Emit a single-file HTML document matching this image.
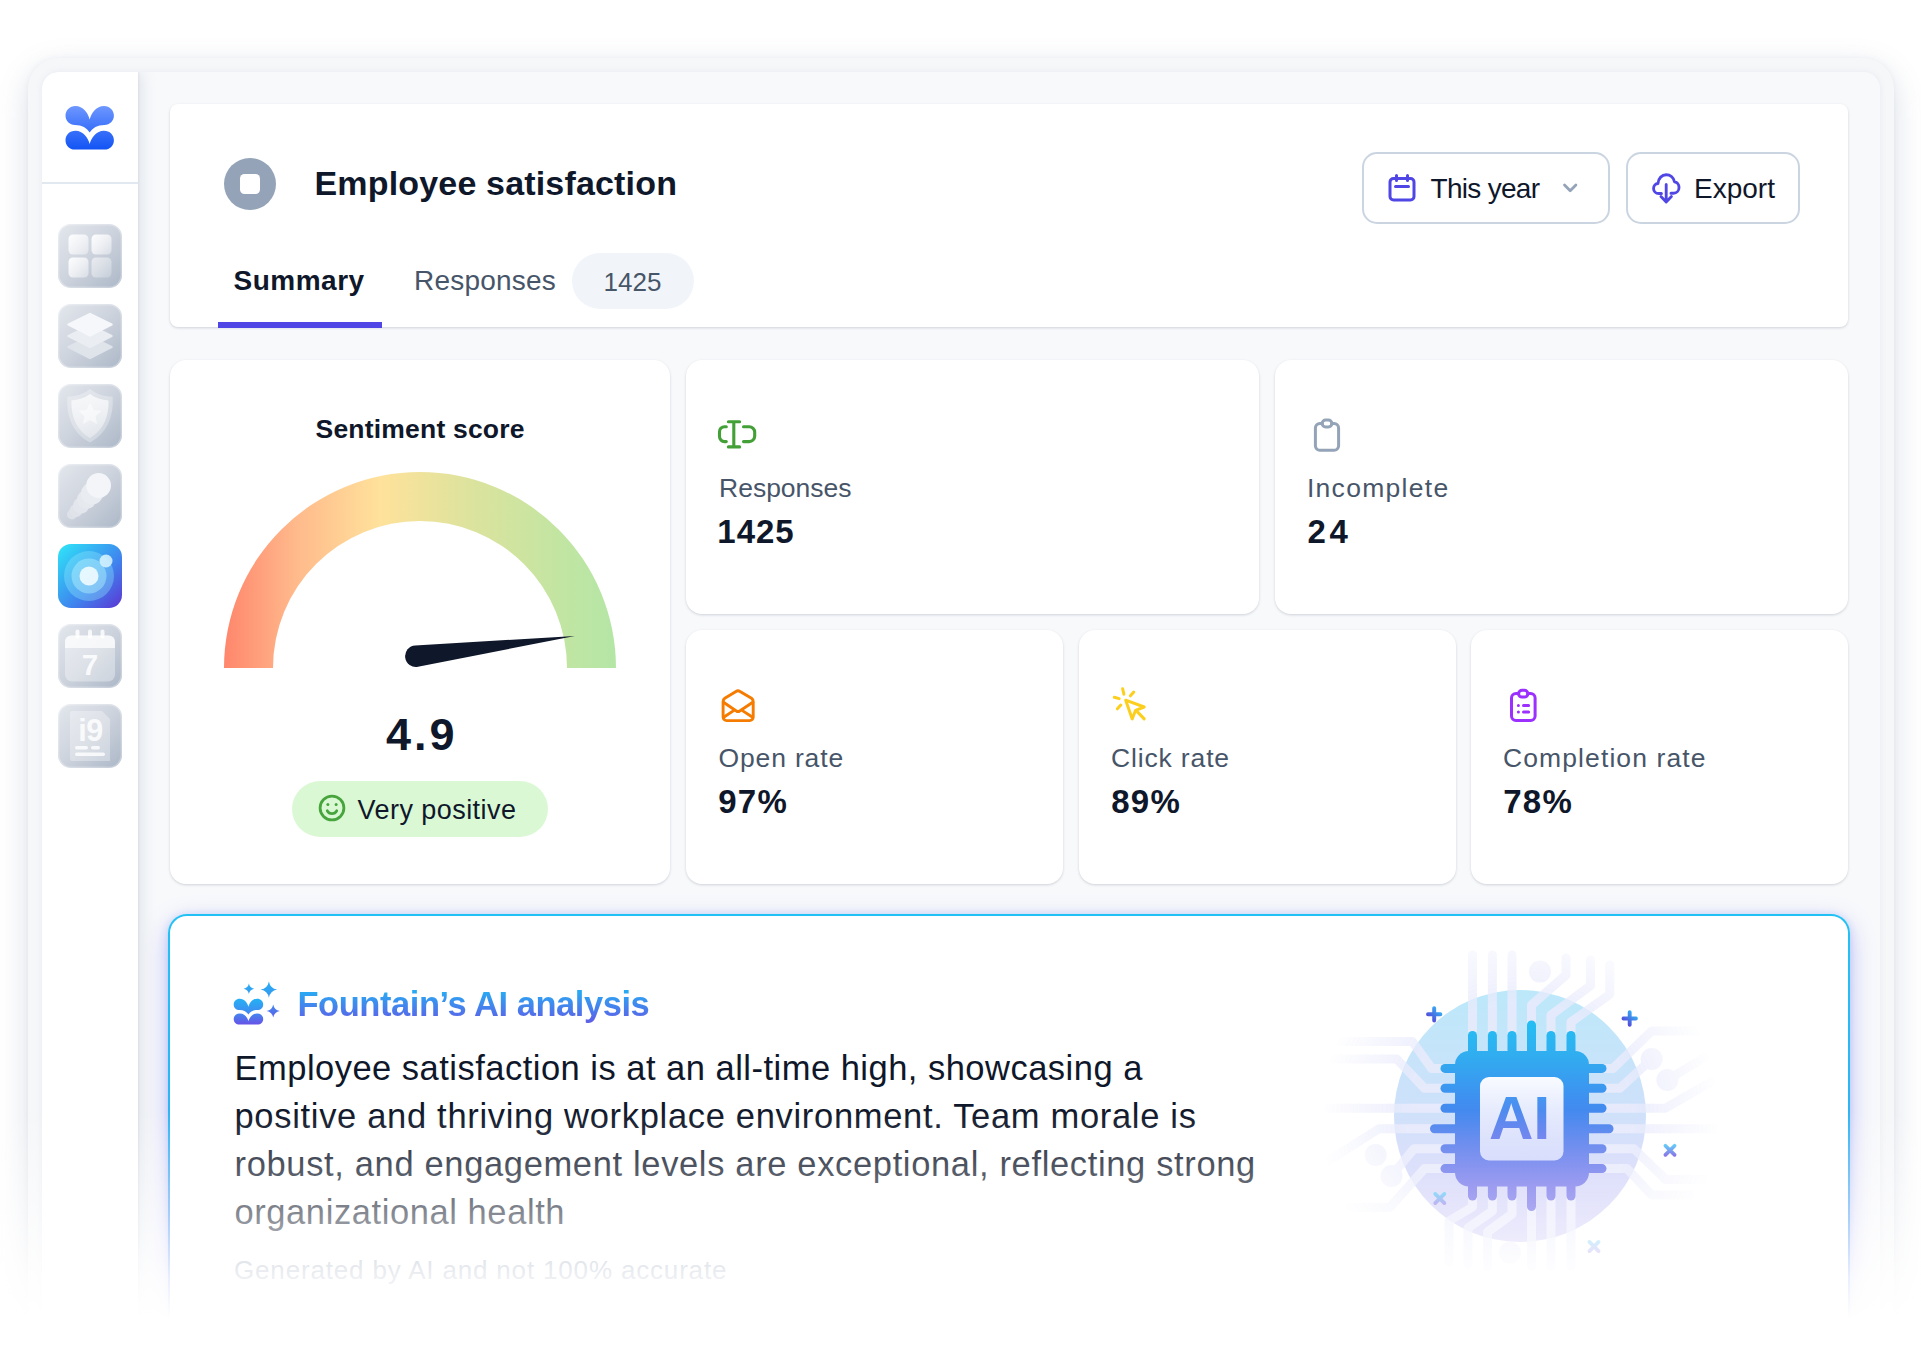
<!DOCTYPE html>
<html lang="en">
<head>
<meta charset="utf-8">
<title>Employee satisfaction</title>
<style>
*{box-sizing:border-box;margin:0;padding:0}
html,body{width:1921px;height:1350px;overflow:hidden;background:#fff}
body{position:relative;font-family:"Liberation Sans",sans-serif;color:#0f172a}
.abs{position:absolute}
.frame{position:absolute;left:28px;top:58px;width:1866px;height:1400px;border-radius:31px;background:#f6f7f9;box-shadow:0 10px 30px rgba(100,116,150,.24),0 0 5px rgba(100,116,150,.07)}
.inner{position:absolute;left:42px;top:72px;width:1838px;height:1400px;border-radius:17px;background:#f8f9fb;overflow:hidden}
.sidebar{position:absolute;left:0;top:0;width:96px;height:1400px;background:#fff;box-shadow:4px 0 14px rgba(100,116,150,.16),1px 0 2px rgba(100,116,150,.10)}
.sidebar .divider{position:absolute;left:0;top:110px;width:96px;height:2px;background:#e2e8f0}
.card{position:absolute;background:#fff;border-radius:16px;box-shadow:0 1px 3px rgba(71,85,105,.16),0 1px 2px rgba(71,85,105,.08)}
.t{position:absolute;white-space:nowrap;line-height:1}
.lbl{color:#475569;font-size:26.5px}
.val{font-weight:bold;font-size:31px}
.ico{position:absolute;left:58px;width:64px;height:64px;border-radius:15px;background:linear-gradient(135deg,#e6e9ef 0%,#d3d8e1 50%,#b8c0cd 100%);overflow:hidden;box-shadow:inset 0 0 3px rgba(255,255,255,.7)}
.btn{position:absolute;height:72px;border:2px solid #cbd5e1;border-radius:15px;background:#fff}
.fade{position:absolute;left:0;top:1110px;width:1921px;height:240px;background:linear-gradient(to bottom,rgba(255,255,255,0) 0%,rgba(255,255,255,.5) 44%,rgba(255,255,255,.86) 70%,#fff 87%,#fff 100%);pointer-events:none}
</style>
</head>
<body>
<div class="frame"></div>
<div class="abs" style="left:42px;top:72px;width:1838px;height:1400px;border-radius:17px;box-shadow:0 0 7px rgba(100,116,150,.10)"></div>
<div class="inner">
  <div class="sidebar"><div class="divider"></div></div>
</div>

<!-- LOGO -->
<svg class="abs" style="left:65px;top:105px" width="50" height="46" viewBox="0 0 50 46">
  <defs><linearGradient id="lg" x1="0" y1="0" x2="0" y2="1"><stop offset="0" stop-color="#6e97ff"/><stop offset="0.5" stop-color="#3f74fa"/><stop offset="1" stop-color="#1254f4"/></linearGradient></defs>
  <path fill="url(#lg)" d="M24.700 14.400C23 8 18 1 10.500 1 4.500 1 .5 5.500.5 10.600.5 16 4.500 20 10 20c7 0 12 3 14.700 7.600C27.400 23 32.400 20 39.400 20c5.500 0 9.500-4 9.500-9.400C48.900 5.500 44.900 1 38.900 1 31.400 1 26.400 8 24.700 14.400zM24.700 39C23 32.500 18 25.800 10.500 25.800 4.500 25.800.5 30 .5 35.200c0 5.300 4 9.400 9.500 9.400h29.400c5.500 0 9.500-4.100 9.500-9.400 0-5.200-4-9.400-10-9.400C31.400 25.800 26.400 32.500 24.700 39z"/>
</svg>
<!-- SIDEBAR ICONS -->
<svg width="0" height="0" style="position:absolute"><defs>
  <linearGradient id="ib" x1="0" y1="0" x2="1" y2="1"><stop offset="0" stop-color="#e3e7ed"/><stop offset="0.5" stop-color="#cdd3dd"/><stop offset="1" stop-color="#abb7c7"/></linearGradient>
  <linearGradient id="iw" x1="0" y1="0" x2="1" y2="1"><stop offset="0" stop-color="#ffffff" stop-opacity=".95"/><stop offset="1" stop-color="#ffffff" stop-opacity=".35"/></linearGradient>
  <linearGradient id="iw2" x1="0" y1="0" x2="0" y2="1"><stop offset="0" stop-color="#ffffff" stop-opacity=".9"/><stop offset="1" stop-color="#ffffff" stop-opacity=".4"/></linearGradient>
  <linearGradient id="iw3" x1="0" y1="0" x2="0" y2="1"><stop offset="0" stop-color="#ffffff" stop-opacity=".7"/><stop offset="1" stop-color="#ffffff" stop-opacity=".35"/></linearGradient><linearGradient id="ia" x1="0" y1="0" x2="1" y2="1"><stop offset="0" stop-color="#2ee8f8"/><stop offset="0.3" stop-color="#36b4f3"/><stop offset="0.6" stop-color="#3f83ee"/><stop offset="1" stop-color="#5b36d3"/></linearGradient>
</defs></svg>
<svg class="abs" style="left:58px;top:224px" width="64" height="64" viewBox="0 0 64 64"><rect width="64" height="64" rx="13" fill="url(#ib)"/><rect x=".7" y=".7" width="62.600" height="62.600" rx="12.500" fill="none" stroke="#fff" stroke-opacity=".3" stroke-width="1.400"/>
  <rect x="10.500" y="10.500" width="20" height="20" rx="4.500" fill="url(#iw)"/><rect x="33.500" y="10.500" width="20" height="20" rx="4.500" fill="url(#iw)"/><rect x="10.500" y="33.500" width="20" height="20" rx="4.500" fill="url(#iw)"/><rect x="33.500" y="33.500" width="20" height="20" rx="4.500" fill="url(#iw)" opacity=".6"/></svg>
<svg class="abs" style="left:58px;top:304px" width="64" height="64" viewBox="0 0 64 64"><rect width="64" height="64" rx="13" fill="url(#ib)"/><rect x=".7" y=".7" width="62.600" height="62.600" rx="12.500" fill="none" stroke="#fff" stroke-opacity=".3" stroke-width="1.400"/>
  <path d="M32 32.500l21.500 10.500L32 54 10.500 43z" fill="#dfe3ea" stroke="#dfe3ea" stroke-width="2.500" stroke-linejoin="round"/>
  <path d="M32 21.500l21.500 10.500L32 43 10.500 32z" fill="#eaedf2" stroke="#eaedf2" stroke-width="2.500" stroke-linejoin="round"/>
  <path d="M32 10l21.500 10.500L32 31.500 10.500 20.500z" fill="#f6f7fa" stroke="#f6f7fa" stroke-width="2.500" stroke-linejoin="round"/></svg>
<svg class="abs" style="left:58px;top:384px" width="64" height="64" viewBox="0 0 64 64"><rect width="64" height="64" rx="13" fill="url(#ib)"/><rect x=".7" y=".7" width="62.600" height="62.600" rx="12.500" fill="none" stroke="#fff" stroke-opacity=".3" stroke-width="1.400"/>
  <path d="M32 5c6 5 14 7.500 22.500 7.500 1.500 18-4 36-22.500 46C13.500 48.500 8 30.500 9.500 12.500 18 12.500 26 10 32 5z" fill="#fff" fill-opacity=".3"/>
  <path d="M32 10c5.500 4 11.500 6 18.500 6.500C51 31 46.500 45.500 32 54 17.500 45.500 13 31 13.500 16.500 20.500 16 26.500 14 32 10z" fill="url(#iw3)"/>
  <path d="M32 18.500l3.500 7.300 8 1-5.900 5.500 1.500 7.900L32 36.300l-7.100 3.900 1.500-7.900-5.900-5.500 8-1z" fill="#fff" fill-opacity=".5"/></svg>
<svg class="abs" style="left:58px;top:464px" width="64" height="64" viewBox="0 0 64 64"><rect width="64" height="64" rx="13" fill="url(#ib)"/><rect x=".7" y=".7" width="62.600" height="62.600" rx="12.500" fill="none" stroke="#fff" stroke-opacity=".3" stroke-width="1.400"/>
  <circle cx="14" cy="50.500" r="5" fill="#dde1e8"/><circle cx="18" cy="46.500" r="6.500" fill="#e0e4ea"/><circle cx="23" cy="41.500" r="8" fill="#e3e6ec"/><circle cx="28.500" cy="35.500" r="9.500" fill="#e6e9ee"/><circle cx="34" cy="29.500" r="11" fill="#e9ecf1"/><circle cx="40.600" cy="21.500" r="12.400" fill="#f3f5f8"/></svg>
<svg class="abs" style="left:58px;top:544px" width="64" height="64" viewBox="0 0 64 64"><rect width="64" height="64" rx="13" fill="url(#ia)"/>
  <circle cx="31" cy="32" r="25" fill="#8fe8fb" fill-opacity=".36"/><circle cx="31" cy="32" r="17.500" fill="#b5f1fd" fill-opacity=".45"/><circle cx="31" cy="32" r="9.500" fill="#eefaff" fill-opacity=".92"/><circle cx="48" cy="17" r="6.500" fill="#d9f6ff" fill-opacity=".85"/></svg>
<svg class="abs" style="left:58px;top:624px" width="64" height="64" viewBox="0 0 64 64"><rect width="64" height="64" rx="13" fill="url(#ib)"/><rect x=".7" y=".7" width="62.600" height="62.600" rx="12.500" fill="none" stroke="#fff" stroke-opacity=".3" stroke-width="1.400"/>
  <rect x="7" y="11.500" width="50" height="46" rx="7" fill="#fff" fill-opacity=".35"/><path d="M13 11.500h38a6 6 0 0 1 6 6V24H7v-6.500a6 6 0 0 1 6-6z" fill="#fff" fill-opacity=".72"/>
  <rect x="17.500" y="5.500" width="4" height="9" rx="2" fill="#fff" fill-opacity=".8"/><rect x="30" y="5.500" width="4" height="9" rx="2" fill="#fff" fill-opacity=".8"/><rect x="42.500" y="5.500" width="4" height="9" rx="2" fill="#fff" fill-opacity=".8"/>
  <text x="32" y="50.500" text-anchor="middle" font-family="Liberation Sans, sans-serif" font-weight="bold" font-size="29.500" fill="#fff" fill-opacity=".85">7</text></svg>
<svg class="abs" style="left:58px;top:704px" width="64" height="64" viewBox="0 0 64 64"><rect width="64" height="64" rx="13" fill="url(#ib)"/><rect x=".7" y=".7" width="62.600" height="62.600" rx="12.500" fill="none" stroke="#fff" stroke-opacity=".3" stroke-width="1.400"/>
  <path d="M14 7h30l8 8v42H14a2 2 0 0 1-2-2V9a2 2 0 0 1 2-2z" fill="#fff" fill-opacity=".32"/>
  <text x="32.500" y="36.500" text-anchor="middle" font-family="Liberation Sans, sans-serif" font-weight="bold" font-size="30.500" letter-spacing="-0.5" fill="#fff" fill-opacity=".85">i9</text>
  <rect x="17" y="42" width="13" height="3.500" rx="1.700" fill="#fff" fill-opacity=".8"/><rect x="33" y="42" width="9" height="3.500" rx="1.700" fill="#fff" fill-opacity=".8"/><rect x="17" y="48.500" width="30" height="3.500" rx="1.700" fill="#fff" fill-opacity=".8"/></svg>
<!-- HEADER -->
<div class="card" style="left:170px;top:104px;width:1678px;height:223px;border-radius:8px"></div>
<div class="abs" style="left:224px;top:158px;width:52px;height:52px;border-radius:50%;background:#94a3b8"></div>
<div class="abs" style="left:240px;top:174px;width:20px;height:20px;border-radius:4.5px;background:#fff"></div>
<div class="t" id="title" style="left:314.5px;top:165.5px;font-size:34px;font-weight:bold;letter-spacing:0.17px">Employee satisfaction</div>
<div class="t" id="tab1" style="left:233.5px;top:267px;font-size:28px;font-weight:bold;letter-spacing:0.5px">Summary</div>
<div class="abs" style="left:218px;top:322px;width:164px;height:6px;background:#4f46e5"></div>
<div class="t" id="tab2" style="left:414px;top:266.500px;font-size:28px;color:#475569;letter-spacing:0.2px">Responses</div>
<div class="abs" style="left:572px;top:253px;width:122px;height:56px;border-radius:28px;background:#f1f5f9"></div>
<div class="t" id="badge" style="left:603.5px;top:268.5px;font-size:26px;color:#475569">1425</div>
<div class="btn" style="left:1362px;top:152px;width:248px"></div>
<svg class="abs" style="left:1386px;top:172px" width="32" height="32" viewBox="0 0 32 32" fill="none" stroke="#4f46e5" stroke-width="3" stroke-linecap="round" stroke-linejoin="round"><rect x="4" y="6.500" width="24" height="21.500" rx="3.500"/><path d="M9.500 14.500h13M10.500 3.500v5M21.500 3.500v5"/></svg>
<div class="t" id="b1" style="left:1430.5px;top:174.700px;font-size:28px;letter-spacing:-0.7px">This year</div>
<svg class="abs" style="left:1560px;top:178px" width="20" height="20" viewBox="0 0 20 20" fill="none" stroke="#94a3b8" stroke-width="2.800" stroke-linecap="round" stroke-linejoin="round"><path d="M4.500 7l5.700 5.700L15.900 7"/></svg>
<div class="btn" style="left:1626px;top:152px;width:174px"></div>
<svg class="abs" style="left:1650.800px;top:171.500px" width="30.400" height="33" preserveAspectRatio="none" viewBox="0 0 32 33" fill="none" stroke="#4f46e5" stroke-width="3" stroke-linecap="round" stroke-linejoin="round"><path d="M11 21.500H8.200C4.900 21.500 2.700 19.200 2.700 16.400c0-2.800 2.100-4.800 4.700-5C7.800 6.300 11.500 2.700 16 2.700c4.300 0 7.800 3 8.700 7.100 2.800.4 4.800 2.700 4.800 5.600 0 3.300-2.500 5.800-5.700 5.800H21"/><path d="M16 12.500V29.500M10.500 24.500L16 30l5.500-5.500"/></svg>
<div class="t" id="b2" style="left:1694px;top:174.700px;font-size:28px">Export</div>
<!-- SENTIMENT -->
<div class="card" style="left:170px;top:360px;width:500px;height:524px"></div>
<div class="t" id="sent" style="left:315.500px;top:415.600px;font-size:26.5px;font-weight:bold;letter-spacing:0.2px">Sentiment score</div>
<svg class="abs" style="left:210px;top:460px" width="420" height="220" viewBox="210 460 420 220">
  <defs>
    <linearGradient id="gg" gradientUnits="userSpaceOnUse" x1="224" y1="0" x2="616" y2="0">
      <stop offset="0" stop-color="#ff866c"/>
      <stop offset="0.18" stop-color="#ffb98b"/>
      <stop offset="0.4" stop-color="#ffe29b"/>
      <stop offset="0.62" stop-color="#dde39d"/>
      <stop offset="0.85" stop-color="#c3e5a2"/>
      <stop offset="1" stop-color="#b4e6a6"/>
    </linearGradient>
  </defs>
  <path d="M224 668 A196 196 0 0 1 616 668 L567 668 A147 147 0 0 0 273 668 Z" fill="url(#gg)"/>
  <path d="M574.900 635.900L415.260 645.420A10.800 10.800 0 1 0 417.980 666.800Z" fill="#0f172a"/>
</svg>
<div class="t" id="score" style="left:386px;top:712.200px;font-size:45px;font-weight:bold;letter-spacing:3px">4.9</div>
<div class="abs" style="left:292px;top:780.600px;width:256px;height:56px;border-radius:28px;background:#dbf8d5"></div>
<svg class="abs" style="left:317px;top:793.400px" width="30" height="30" viewBox="0 0 30 30" fill="none" stroke="#48a53d" stroke-width="2.800" stroke-linecap="round"><circle cx="15" cy="15" r="11.900"/><path d="M10.300 17.800c1 1.900 2.700 2.800 4.700 2.800s3.700-.9 4.700-2.800"/><circle cx="10.900" cy="11.600" r="1.500" fill="#48a53d" stroke="none"/><circle cx="19.100" cy="11.600" r="1.500" fill="#48a53d" stroke="none"/></svg>
<div class="t" id="vp" style="left:357.5px;top:796.500px;font-size:27px;letter-spacing:0.45px">Very positive</div>
<!-- STATS -->
<div class="card" style="left:686px;top:360px;width:573px;height:254px"></div>
<div class="card" style="left:1275px;top:360px;width:573px;height:254px"></div>
<div class="card" style="left:686px;top:630px;width:377px;height:254px"></div>
<div class="card" style="left:1079px;top:630px;width:377px;height:254px"></div>
<div class="card" style="left:1471px;top:630px;width:377px;height:254px"></div>
<svg class="abs" style="left:716px;top:416px" width="44" height="36" viewBox="0 0 44 36" fill="none" stroke="#43a037" stroke-width="3.100" stroke-linecap="round" stroke-linejoin="round"><path d="M10.300 10.700H8.500A5 5 0 0 0 3.500 15.700V20.600A5 5 0 0 0 8.500 25.600H10.300M27.500 10.700H33.200A5.500 5.500 0 0 1 38.700 16.200V20.100A5.500 5.500 0 0 1 33.200 25.600H27.500M17.800 5.700V30.900M12.400 5.700H23.600M12.400 30.900H23.600"/></svg>
<div class="t lbl" id="l1" style="left:719.00px;top:474.80px">Responses</div>
<div class="t val" id="v1" style="left:717.30px;top:514.50px;font-size:33px;letter-spacing:1px">1425</div>
<svg class="abs" style="left:1311px;top:416px" width="32" height="38" viewBox="0 0 32 38" fill="none" stroke="#94a3b8" stroke-width="3" stroke-linecap="round" stroke-linejoin="round"><path d="M11.200 7.400H8.900A4.500 4.500 0 0 0 4.400 11.900V29.800A4.500 4.500 0 0 0 8.900 34.300H23.100A4.500 4.500 0 0 0 27.600 29.800V11.900A4.500 4.500 0 0 0 23.100 7.400H20.800"/><rect x="11.200" y="4" width="9.600" height="6.900" rx="3.450"/></svg>
<div class="t lbl" id="l2" style="left:1306.90px;top:474.80px;letter-spacing:1.3px">Incomplete</div>
<div class="t val" id="v2" style="left:1307.60px;top:514.50px;font-size:33px;letter-spacing:3.5px">24</div>
<svg class="abs" style="left:718px;top:687px" width="40" height="38" viewBox="0 0 40 38" fill="none" stroke="#f57c00" stroke-width="2.900" stroke-linecap="round" stroke-linejoin="round"><path d="M5.100 14.500V30.100A3.500 3.500 0 0 0 8.600 33.600H31.700A3.500 3.500 0 0 0 35.200 30.100V14.500C35.200 13 34.500 12 33.500 11.300L22 4.400C20.700 3.600 19.300 3.600 18 4.400L6.800 11.300C5.800 12 5.100 13 5.100 14.500Z"/><path d="M5.500 15.300L18.300 24C19.300 24.700 20.700 24.700 21.700 24L34.800 15.300M5.700 30.200L15.600 23.600M34.600 30.200L24.400 23.600"/></svg>
<div class="t lbl" id="l3" style="left:718.50px;top:744.90px;letter-spacing:0.85px">Open rate</div>
<div class="t val" id="v3" style="left:718.30px;top:784.50px;font-size:33px;letter-spacing:1.2px">97%</div>
<svg class="abs" style="left:1110px;top:685px" width="40" height="38" viewBox="0 0 40 38" fill="none" stroke="#fccf1f" stroke-width="3" stroke-linecap="round" stroke-linejoin="round"><path d="M15.700 15.200L34.200 22 25.600 25.300 22.200 33.900Z"/><path d="M27.400 26.900L34.200 33.900M12.600 3.700L13.900 9.200M23.800 7.100L20.400 10.800M4.300 12.300L9.200 13.600M10.800 20.100L7.400 23.800"/></svg>
<div class="t lbl" id="l4" style="left:1111.00px;top:744.90px;letter-spacing:0.85px">Click rate</div>
<div class="t val" id="v4" style="left:1111.30px;top:784.50px;font-size:33px;letter-spacing:1.2px">89%</div>
<svg class="abs" style="left:1507px;top:686px" width="32" height="38" viewBox="0 0 32 38" fill="none" stroke="#9b30ff" stroke-width="3" stroke-linecap="round" stroke-linejoin="round"><path d="M11.600 7.600H9A4.500 4.500 0 0 0 4.500 12.100V30.100A4.500 4.500 0 0 0 9 34.600H23.600A4.500 4.500 0 0 0 28.100 30.100V12.100A4.500 4.500 0 0 0 23.600 7.600H20.800"/><rect x="11.600" y="4.200" width="9.200" height="6.900" rx="3.450"/><path d="M16.500 19.500H21.600M16.500 26.100H21.600M11.400 19.500h.01M11.400 26.100h.01"/></svg>
<div class="t lbl" id="l5" style="left:1503.00px;top:744.90px;letter-spacing:1.1px">Completion rate</div>
<div class="t val" id="v5" style="left:1503.30px;top:784.50px;font-size:33px;letter-spacing:1.2px">78%</div>
<!-- AI CARD -->
<div class="abs" style="left:168px;top:914px;width:1682px;height:520px;border-radius:19px;background:linear-gradient(180deg,#22c1f5 0%,#2db4f5 42%,#6a8cf5 72%,#8a8af5 100%);box-shadow:0 8px 24px rgba(99,102,241,.40),0 0 7px rgba(79,120,245,.18)"></div>
<div class="abs" style="left:170px;top:916px;width:1678px;height:520px;border-radius:17px;background:#fff"></div>
<svg class="abs" style="left:232px;top:979px" width="50" height="48" viewBox="0 0 50 48">
  <defs><linearGradient id="sg" gradientUnits="userSpaceOnUse" x1="0" y1="2" x2="0" y2="46"><stop offset="0" stop-color="#25b0f4"/><stop offset="0.5" stop-color="#3f8cf0"/><stop offset="1" stop-color="#6a4fe6"/></linearGradient></defs>
  <g fill="url(#sg)">
    <path d="M16.9 4.50Q17.73 8.87 22.10 9.7Q17.73 10.53 16.9 14.90Q16.07 10.53 11.70 9.7Q16.07 8.87 16.9 4.50Z"/>
    <path d="M36.9 2.40Q38.21 9.29 45.10 10.6Q38.21 11.91 36.9 18.80Q35.59 11.91 28.70 10.6Q35.59 9.29 36.9 2.40Z"/>
    <path d="M41.2 25.40Q42.26 30.94 47.80 32Q42.26 33.06 41.2 38.60Q40.14 33.06 34.60 32Q40.14 30.94 41.2 25.40Z"/>
    <g transform="translate(1.40 19.11) scale(0.6095 0.5917)"><path d="M24.700 14.400C23 8 18 1 10.500 1 4.500 1 .5 5.500.5 10.600.5 16 4.500 20 10 20c7 0 12 3 14.700 7.600C27.400 23 32.400 20 39.400 20c5.500 0 9.500-4 9.500-9.400C48.900 5.500 44.900 1 38.900 1 31.400 1 26.400 8 24.700 14.400zM24.700 39C23 32.500 18 25.800 10.500 25.800 4.500 25.800.5 30 .5 35.200c0 5.300 4 9.400 9.500 9.400h29.400c5.500 0 9.500-4.100 9.500-9.400 0-5.200-4-9.400-10-9.400C31.400 25.800 26.400 32.500 24.700 39z"/></g>
  </g>
</svg>
<div class="t" id="aih" style="left:297.5px;top:986.500px;font-size:34.500px;font-weight:bold;letter-spacing:-0.45px;background:linear-gradient(180deg,#2aa9f3 12%,#5b62e8 78%);-webkit-background-clip:text;background-clip:text;color:transparent;padding-bottom:8px">Fountain’s AI analysis</div>
<div class="t" id="p1" style="left:234.500px;top:1051px;font-size:34.5px;letter-spacing:0.485px">Employee satisfaction is at an all-time high, showcasing a</div>
<div class="t" id="p2" style="left:234.500px;top:1099px;font-size:34.5px;letter-spacing:0.685px">positive and thriving workplace environment. Team morale is</div>
<div class="t" id="p3" style="left:234.500px;top:1147px;font-size:34.5px;letter-spacing:0.647px">robust, and engagement levels are exceptional, reflecting strong</div>
<div class="t" id="p4" style="left:234.500px;top:1195px;font-size:34.5px;letter-spacing:0.58px">organizational health</div>
<div class="t" id="p5" style="left:234.00px;top:1257.00px;font-size:26px;color:#8593aa;letter-spacing:0.83px">Generated by AI and not 100% accurate</div>
<!-- CHIP -->
<svg class="abs" style="left:1310px;top:940px" width="430" height="340" viewBox="1310 940 430 340">
  <defs>
    <linearGradient id="cbg" gradientUnits="userSpaceOnUse" x1="0" y1="990" x2="0" y2="1242"><stop offset="0" stop-color="#bce8fa"/><stop offset="0.5" stop-color="#cfe0fa"/><stop offset="0.75" stop-color="#d0d2f9"/><stop offset="1" stop-color="#cdc9f7"/></linearGradient>
    <linearGradient id="cg" gradientUnits="userSpaceOnUse" x1="0" y1="1020" x2="0" y2="1211"><stop offset="0" stop-color="#22bff4"/><stop offset="0.16" stop-color="#2fb0f0"/><stop offset="0.42" stop-color="#3f8ff0"/><stop offset="0.87" stop-color="#6464e8"/><stop offset="1" stop-color="#5f58e4"/></linearGradient>
    <linearGradient id="ci" gradientUnits="userSpaceOnUse" x1="0" y1="1077" x2="0" y2="1160"><stop offset="0" stop-color="#f8fbff"/><stop offset="1" stop-color="#cdd4fb"/></linearGradient>
    <linearGradient id="ct" gradientUnits="userSpaceOnUse" x1="0" y1="1096" x2="0" y2="1139"><stop offset="0" stop-color="#4597f1"/><stop offset="1" stop-color="#5f74ec"/></linearGradient>
    <linearGradient id="cp1" gradientUnits="userSpaceOnUse" x1="1441" y1="1008" x2="1428" y2="1021"><stop offset="0" stop-color="#2fc0f7"/><stop offset="1" stop-color="#5a37d6"/></linearGradient><linearGradient id="cp2" gradientUnits="userSpaceOnUse" x1="1636" y1="1012" x2="1624" y2="1025"><stop offset="0" stop-color="#2fc0f7"/><stop offset="1" stop-color="#5a37d6"/></linearGradient><linearGradient id="cx1" gradientUnits="userSpaceOnUse" x1="1670" y1="1145" x2="1670" y2="1156"><stop offset="0" stop-color="#45c3f7"/><stop offset="1" stop-color="#6a4fe0"/></linearGradient><linearGradient id="cx2" gradientUnits="userSpaceOnUse" x1="1440" y1="1193" x2="1440" y2="1204"><stop offset="0" stop-color="#45c3f7"/><stop offset="1" stop-color="#8a7ae6"/></linearGradient><linearGradient id="cx3" gradientUnits="userSpaceOnUse" x1="1594" y1="1241" x2="1594" y2="1252"><stop offset="0" stop-color="#7fd0f8"/><stop offset="1" stop-color="#a89cf0"/></linearGradient><linearGradient id="cp" gradientUnits="userSpaceOnUse" x1="0" y1="1006" x2="0" y2="1027"><stop offset="0" stop-color="#38a8f5"/><stop offset="1" stop-color="#6a3fe0"/></linearGradient>
    <radialGradient id="fm" gradientUnits="userSpaceOnUse" cx="1520" cy="1116" r="200"><stop offset="0.55" stop-color="#fff"/><stop offset="1" stop-color="#000"/></radialGradient>
    <mask id="mk" maskUnits="userSpaceOnUse" x="1310" y="940" width="430" height="340"><rect x="1310" y="940" width="430" height="340" fill="url(#fm)"/></mask>
  </defs>
  <circle cx="1520" cy="1116" r="126" fill="url(#cbg)"/>
  <g mask="url(#mk)" opacity=".9"><g fill="none" stroke="#e9ebfc" stroke-width="9" stroke-linecap="round" stroke-linejoin="round"><path d="M1472.5 1040V955"/><path d="M1492.4 1040V955"/><path d="M1512 1040V955"/><path d="M1531.5 1030V1005L1566 975V958"/><path d="M1551 1040V1015L1590.5 985.6V960"/><path d="M1571 1040V1022L1609.8 994.3V965"/><path d="M1600 1068.4H1613L1651.7 1031H1700"/><path d="M1600 1088.3H1620L1651.7 1059"/><path d="M1600 1108.2H1665.6L1716 1079"/><path d="M1667.4 1080L1710 1054"/><path d="M1600 1128.8H1716"/><path d="M1600 1148.7H1634L1665.6 1179.4H1710"/><path d="M1600 1168.6H1627L1651.7 1195H1690"/><path d="M1445 1068.4H1431.6L1412.4 1041.5H1340"/><path d="M1445 1088.3H1424.6L1396.7 1059H1330"/><path d="M1445 1108.2H1328"/><path d="M1440 1128.8H1379L1328 1161"/><path d="M1445 1148.7H1414L1391.5 1176"/><path d="M1445 1168.6H1424.6L1389.7 1207.4H1350"/><path d="M1472.5 1195V1207L1449 1221V1262"/><path d="M1492.4 1195V1211L1468 1228V1264"/><path d="M1512 1195V1214L1487.5 1232V1266"/><path d="M1531.5 1200V1266"/><path d="M1551 1195V1266"/><path d="M1571 1195V1266"/></g><g fill="#e9ebfc"><circle cx="1540" cy="971.6" r="11"/><circle cx="1651.7" cy="1059" r="11"/><circle cx="1667.4" cy="1080" r="11"/><circle cx="1375.7" cy="1155" r="11"/><circle cx="1391.5" cy="1176" r="11"/><circle cx="1510" cy="1252.8" r="11"/></g></g>
  <g fill="none" stroke="url(#cg)" stroke-width="9" stroke-linecap="round"><path d="M1472.5 1035.5V1196.0"/><path d="M1492.4 1035.5V1196.0"/><path d="M1512 1035.5V1196.0"/><path d="M1531.5 1025.0V1206.5"/><path d="M1551 1035.5V1196.0"/><path d="M1571 1035.5V1196.0"/><path d="M1445.0 1068.4H1602.0"/><path d="M1445.0 1088.3H1602.0"/><path d="M1445.0 1108.2H1602.0"/><path d="M1434.5 1128.8H1609.0"/><path d="M1445.0 1148.7H1602.0"/><path d="M1445.0 1168.6H1602.0"/></g>
  <rect x="1455" y="1051" width="134" height="135.500" rx="14" fill="url(#cg)"/>
  <rect x="1480" y="1077" width="83.500" height="83.500" rx="9" fill="url(#ci)"/>
  <text x="1519.700" y="1138.500" text-anchor="middle" font-family="Liberation Sans, sans-serif" font-weight="bold" font-size="61.500" fill="url(#ct)">AI</text>
  <g fill="none" stroke-width="3.900" stroke-linecap="round"><g stroke="url(#cp1)"><path d="M1428.0 1014.3H1440.4M1434.2 1008.1V1020.5"/></g><g stroke="url(#cp2)"><path d="M1623.5 1018.5H1635.9M1629.7 1012.3V1024.7"/></g></g>
  <g fill="none" stroke-width="3.700" stroke-linecap="round"><g stroke="url(#cx1)"><path d="M1665.4 1145.7L1674.6 1154.9M1674.6 1145.7L1665.4 1154.9"/></g><g stroke="url(#cx2)"><path d="M1435.2 1193.9L1444.4 1203.1M1444.4 1193.9L1435.2 1203.1"/></g><g stroke="url(#cx3)"><path d="M1589.4 1241.9L1598.6 1251.1M1598.6 1241.9L1589.4 1251.1"/></g></g>
</svg>

<div class="fade"></div>
</body>
</html>
